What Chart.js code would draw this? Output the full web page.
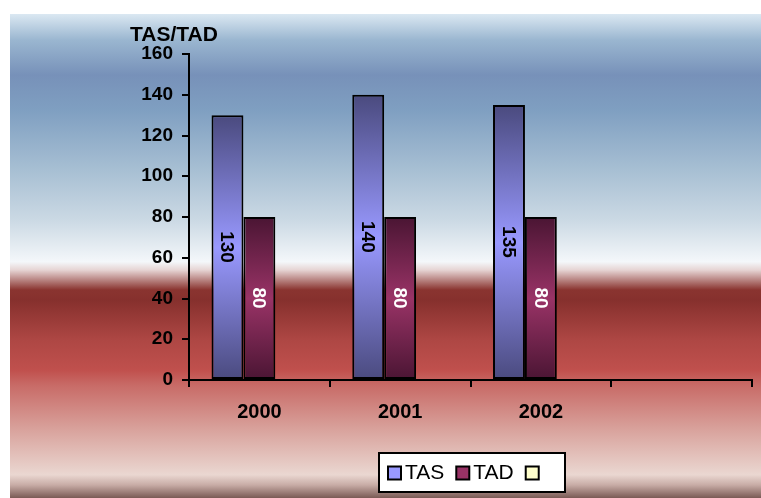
<!DOCTYPE html>
<html>
<head>
<meta charset="utf-8">
<script src="https://cdn.jsdelivr.net/npm/chart.js@4.4.0/dist/chart.umd.min.js"></script>
<style>
  html, body { margin: 0; padding: 0; background: #fff; }
  #wrap { width: 761px; height: 498px; }
</style>
</head>
<body>
<div id="wrap"><canvas id="chart"></canvas></div>
<script>
const categories = ['2000', '2001', '2002', ''];
const tasValues = [130, 140, 135, null];
const tadValues = [80, 80, 80, null];
const thirdValues = [null, null, null, null];
const yTicks = [0, 20, 40, 60, 80, 100, 120, 140, 160];

// bar fill: dark at the ends, light in the middle of each bar
function barFill(dark, light) {
  return function (ctx) {
    const chart = ctx.chart;
    if (!chart.chartArea || ctx.type !== 'data') return light;
    const v = ctx.raw;
    if (v == null) return light;
    const top = chart.scales.y.getPixelForValue(v);
    const bottom = chart.scales.y.getPixelForValue(0);
    const g = chart.ctx.createLinearGradient(0, top, 0, bottom);
    g.addColorStop(0, dark);
    g.addColorStop(0.5, light);
    g.addColorStop(1, dark);
    return g;
  };
}

const backdrop = {
  id: 'backdrop',
  beforeDraw(chart) {
    const c = chart.ctx;
    const g = c.createLinearGradient(0, 14, 0, 498);
    const stops = [
      [0, '#dbe8f2'], [0.054, '#9ab6d0'], [0.126, '#7791b9'], [0.198, '#7f9fc1'],
      [0.322, '#a7bfd3'], [0.426, '#cbd9e4'], [0.512, '#f4f7fa'], [0.529, '#e6d4d3'],
      [0.57, '#8a3430'], [0.591, '#86302d'], [0.674, '#ae4744'], [0.736, '#c0504d'],
      [0.767, '#c86b67'], [0.86, '#d9a39d'], [0.952, '#ead7d1'], [0.973, '#c8aca6'],
      [1, '#7a5a55']
    ];
    stops.forEach(s => g.addColorStop(s[0], s[1]));
    c.save();
    c.fillStyle = '#fff';
    c.fillRect(0, 0, chart.width, chart.height);
    c.fillStyle = g;
    c.fillRect(10, 14, chart.width - 10, chart.height - 14);
    c.restore();
  }
};

const extras = {
  id: 'extras',
  afterDatasetsDraw(chart) {
    const c = chart.ctx;
    c.save();
    c.font = 'bold 19px "Liberation Sans", Arial, sans-serif';
    c.textAlign = 'center';
    c.textBaseline = 'middle';
    chart.data.datasets.forEach((ds, i) => {
      const meta = chart.getDatasetMeta(i);
      meta.data.forEach((bar, j) => {
        const v = ds.data[j];
        if (v == null) return;
        c.save();
        c.translate(bar.x, (bar.y + bar.base) / 2);
        c.rotate(Math.PI / 2);
        c.fillStyle = ds.valueColor;
        c.fillText(String(v), 0, 1);
        c.restore();
      });
    });
    c.restore();
  },
  afterDraw(chart) {
    const c = chart.ctx;
    c.save();
    // axis title
    c.fillStyle = '#000';
    c.font = 'bold 21px "Liberation Sans", Arial, sans-serif';
    c.textAlign = 'left';
    c.textBaseline = 'alphabetic';
    c.fillText('TAS/TAD', 130, 41);
    // legend
    const lx = 379, ly = 453, lw = 186, lh = 39;
    c.fillStyle = '#fff';
    c.fillRect(lx, ly, lw, lh);
    c.strokeStyle = '#000';
    c.lineWidth = 2;
    c.strokeRect(lx, ly, lw, lh);
    c.font = '21px "Liberation Sans", Arial, sans-serif';
    c.textBaseline = 'middle';
    let x = 388;
    const cy = ly + lh / 2;
    chart.data.datasets.forEach(ds => {
      c.fillStyle = ds.legendColor;
      c.fillRect(x, cy - 6, 13, 13);
      c.strokeStyle = '#000';
      c.lineWidth = 2;
      c.strokeRect(x, cy - 6, 13, 13);
      x += 17;
      if (ds.label) {
        c.fillStyle = '#000';
        c.fillText(ds.label, x, cy + 1);
        x += c.measureText(ds.label).width + 12;
      }
    });
    c.restore();
  }
};

new Chart(document.getElementById('chart'), {
  type: 'bar',
  data: {
    labels: categories,
    datasets: [
      {
        label: 'TAS',
        data: tasValues,
        backgroundColor: barFill('#4a4a7e', '#9999ff'),
        legendColor: '#9999ff',
        valueColor: '#000',
        borderColor: '#000',
        borderWidth: 2,
        borderSkipped: false
      },
      {
        label: 'TAD',
        data: tadValues,
        backgroundColor: barFill('#4a1533', '#993366'),
        legendColor: '#993366',
        valueColor: '#fff',
        borderColor: '#000',
        borderWidth: 2,
        borderSkipped: false
      },
      {
        label: '',
        data: thirdValues,
        backgroundColor: '#ffffcc',
        legendColor: '#ffffcc',
        valueColor: '#000',
        borderColor: '#000',
        borderWidth: 2
      }
    ]
  },
  options: {
    responsive: true,
    maintainAspectRatio: false,
    animation: false,
    layout: { padding: { left: 0, top: 54, right: 9, bottom: 0 } },
    datasets: { bar: { categoryPercentage: 0.68, barPercentage: 1 } },
    plugins: {
      legend: { display: false },
      tooltip: { enabled: false }
    },
    scales: {
      x: {
        afterFit: function (scale) { scale.height = 118; },
        grid: { drawOnChartArea: false, drawTicks: true, tickLength: 7, color: '#000', lineWidth: 2, offset: true },
        border: { color: '#000', width: 2 },
        ticks: {
          color: '#000',
          padding: 13,
          font: { family: '"Liberation Sans", Arial, sans-serif', size: 20, weight: 'bold' }
        }
      },
      y: {
        min: 0,
        max: 160,
        afterFit: function (scale) { scale.width = 189; },
        afterBuildTicks: function (scale) { scale.ticks = yTicks.map(v => ({ value: v })); },
        grid: { drawOnChartArea: false, drawTicks: true, tickLength: 7, color: '#000', lineWidth: 2 },
        border: { color: '#000', width: 2 },
        ticks: {
          color: '#000',
          padding: 9,
          font: { family: '"Liberation Sans", Arial, sans-serif', size: 19, weight: 'bold' }
        }
      }
    }
  },
  plugins: [backdrop, extras]
});
</script>
</body>
</html>
